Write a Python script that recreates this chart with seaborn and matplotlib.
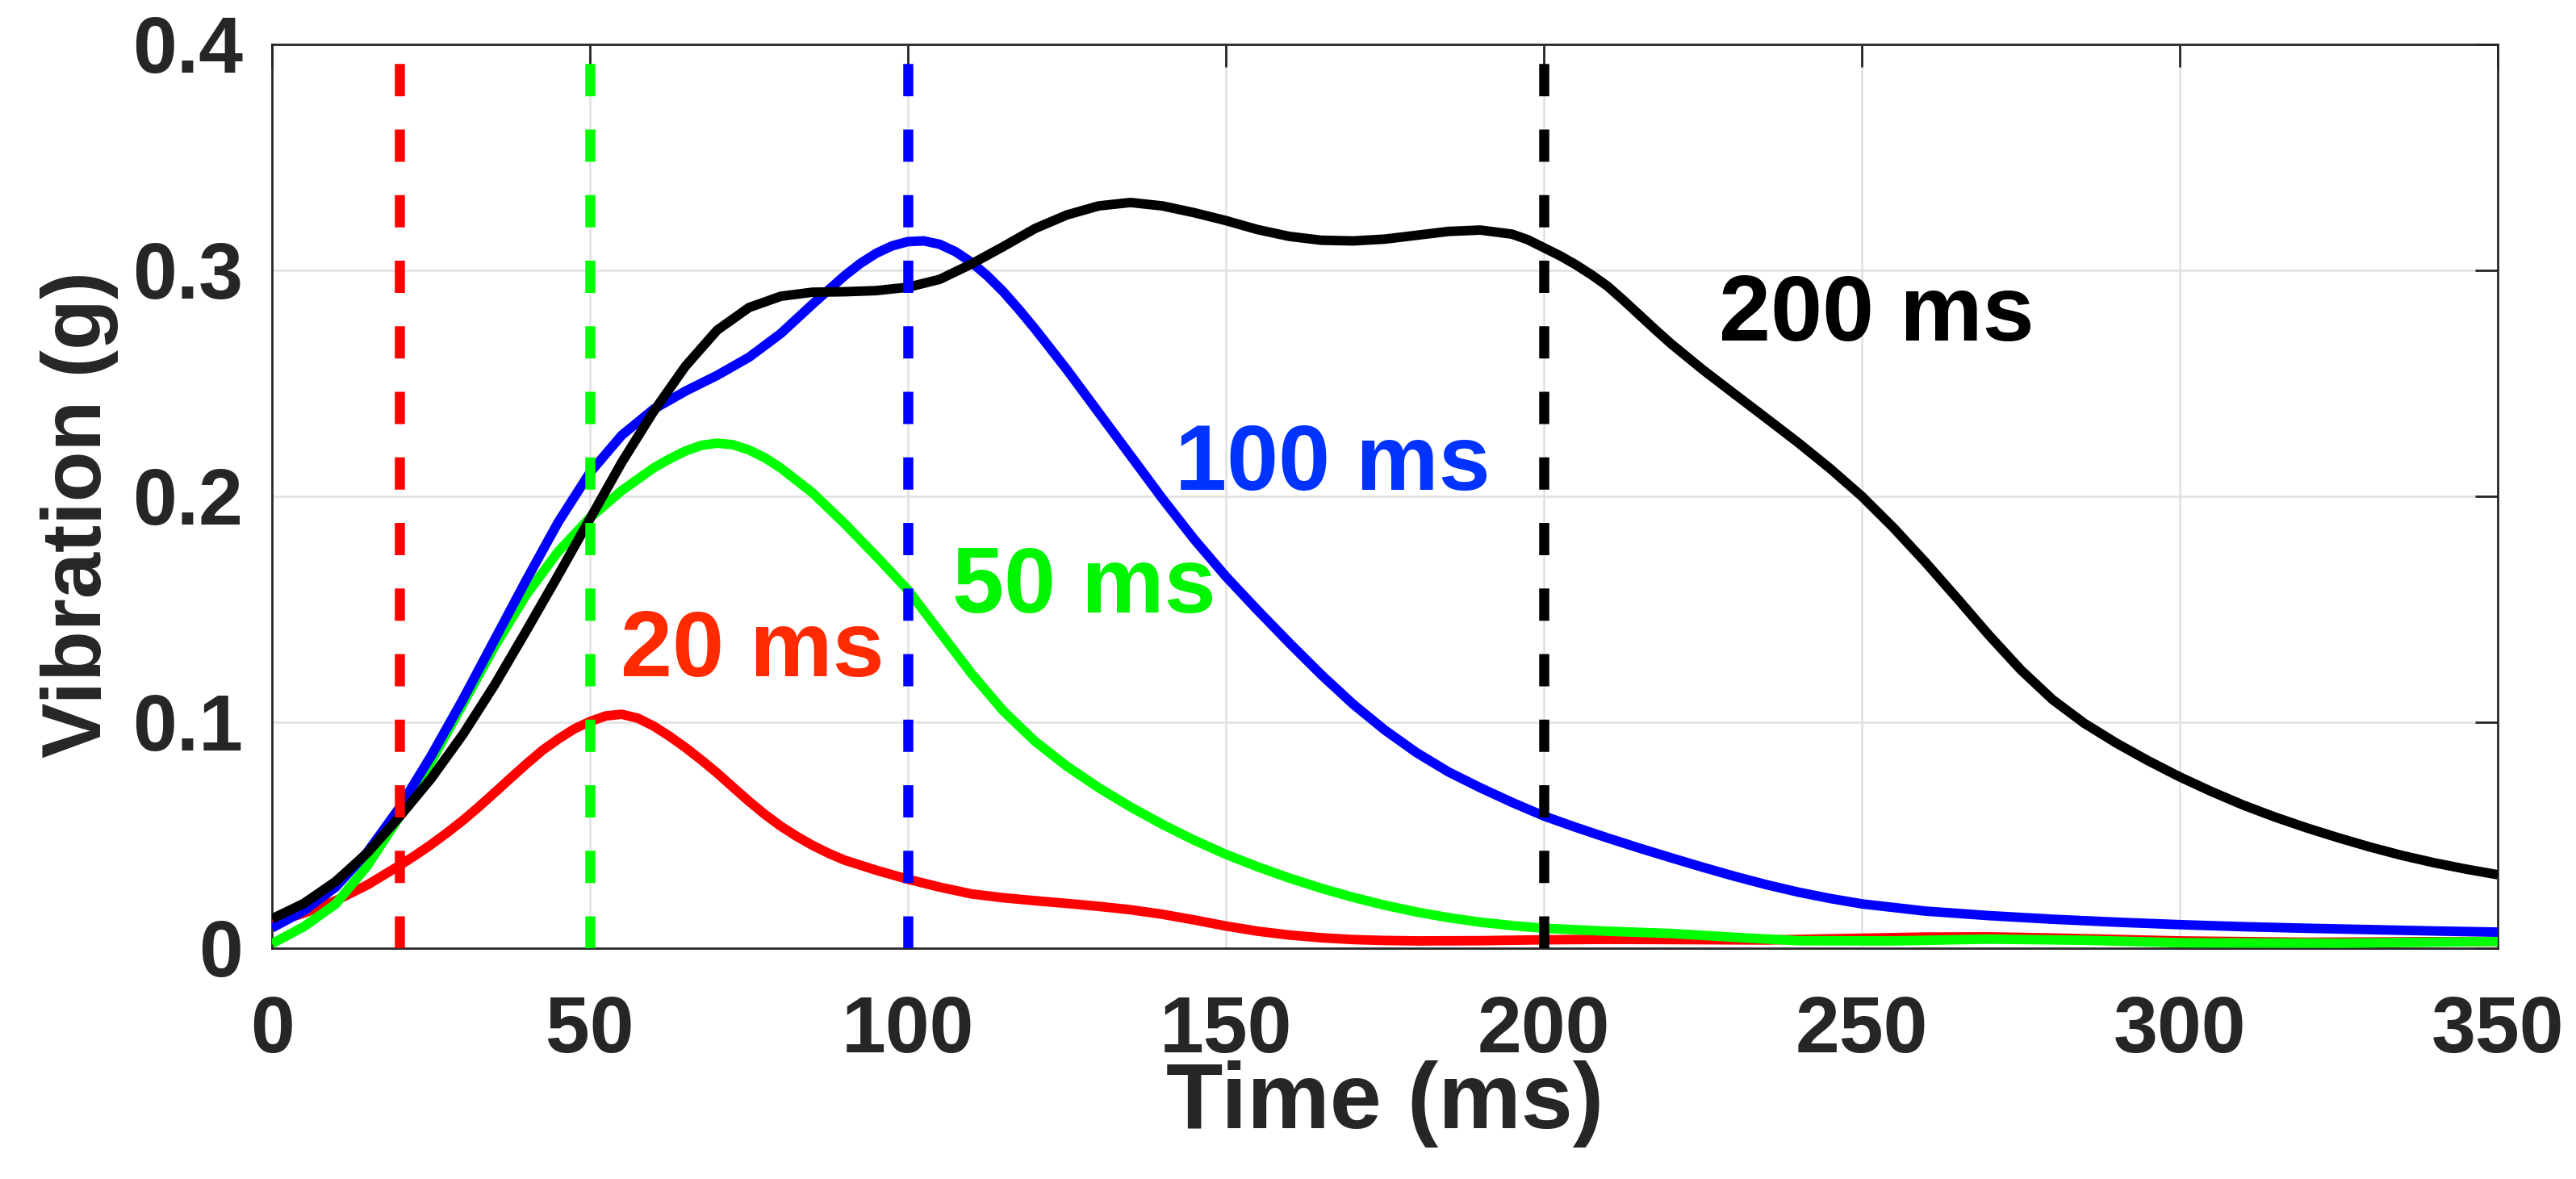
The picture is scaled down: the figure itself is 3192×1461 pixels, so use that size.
import numpy as np
import pandas as pd
import matplotlib
matplotlib.use("Agg")
import matplotlib.pyplot as plt
import seaborn as sns

# Vibration response (g) versus time (ms) for four stimulus durations
t_20 = [0, 5, 10, 15, 20, 22.5, 25, 27.5, 30, 32.5, 35, 37.5, 40, 42.5, 45, 47.5, 50,
        52.5, 55, 57.5, 60, 62.5, 65, 67.5, 70, 72.5, 75, 77.5, 80, 82.5, 85, 87.5, 90,
        95, 100, 105, 110, 115, 120, 125, 130, 135, 140, 145, 150, 155, 160, 165, 170,
        175, 180, 190, 200, 210, 220, 235, 250, 260, 270, 280, 300, 320, 350]
v_20 = [0.011, 0.0155, 0.021, 0.028, 0.0365, 0.041, 0.0458, 0.051, 0.0565, 0.0625,
        0.0688, 0.0752, 0.0815, 0.0875, 0.0925, 0.097, 0.1003, 0.1028, 0.1035, 0.1018,
        0.0983, 0.0938, 0.0888, 0.0833, 0.0775, 0.0712, 0.065, 0.0592, 0.054, 0.0495,
        0.0455, 0.042, 0.039, 0.0345, 0.0305, 0.027, 0.0240, 0.0223, 0.0210, 0.0198,
        0.0185, 0.017, 0.015, 0.0125, 0.0098, 0.0075, 0.0058, 0.0046, 0.0038, 0.0034,
        0.0032, 0.0033, 0.0037, 0.0039, 0.0038, 0.0036, 0.0044, 0.0049, 0.0050, 0.0045,
        0.0032, 0.0026, 0.0030]

t_50 = [0, 5, 10, 15, 20, 25, 30, 35, 40, 45, 50, 55, 60, 62.5, 65, 67.5, 70, 72.5, 75,
        77.5, 80, 85, 90, 95, 100, 105, 110, 115, 120, 125, 130, 135, 140, 145, 150, 155,
        160, 165, 170, 175, 180, 185, 190, 195, 200, 210, 220, 230, 240, 255, 270, 285,
        300, 325, 350]
v_50 = [0.002, 0.0095, 0.0195, 0.0365, 0.058, 0.0825, 0.108, 0.1335, 0.1565, 0.1755,
        0.1905, 0.2025, 0.2125, 0.2165, 0.2200, 0.2225, 0.2235, 0.2228, 0.2205, 0.2170,
        0.2125, 0.2015, 0.1880, 0.1735, 0.1585, 0.1400, 0.1215, 0.1050, 0.0915, 0.0805,
        0.0710, 0.0625, 0.0548, 0.0478, 0.0415, 0.0360, 0.0310, 0.0265, 0.0225, 0.0190,
        0.0160, 0.0135, 0.0115, 0.0100, 0.0088, 0.0075, 0.0065, 0.0048, 0.0033, 0.0032,
        0.0040, 0.0035, 0.0024, 0.0022, 0.0030]

t_100 = [0, 5, 10, 15, 20, 25, 30, 35, 40, 45, 50, 55, 60, 65, 70, 75, 80, 85, 90, 92.5,
         95, 97.5, 100, 102.5, 105, 107.5, 110, 112.5, 115, 117.5, 120, 125, 130, 135,
         140, 145, 150, 155, 160, 165, 170, 175, 180, 185, 190, 195, 200, 205, 210, 215,
         220, 225, 230, 235, 240, 245, 250, 260, 270, 280, 290, 300, 310, 320, 330, 340,
         350]
v_100 = [0.009, 0.0165, 0.0270, 0.0425, 0.0620, 0.0850, 0.1100, 0.1365, 0.1630, 0.1885,
         0.2105, 0.2270, 0.2385, 0.2465, 0.2535, 0.2615, 0.2720, 0.2850, 0.2975, 0.3030,
         0.3075, 0.3108, 0.3127, 0.3130, 0.3115, 0.3082, 0.3035, 0.2975, 0.2905, 0.2825,
         0.2740, 0.2560, 0.2370, 0.2180, 0.1990, 0.1810, 0.1645, 0.1495, 0.1350, 0.1210,
         0.1080, 0.0965, 0.0865, 0.0780, 0.0710, 0.0645, 0.0585, 0.0535, 0.0488, 0.0443,
         0.0400, 0.0358, 0.0318, 0.0281, 0.0248, 0.0220, 0.0196, 0.0164, 0.0144, 0.0128,
         0.0115, 0.0104, 0.0095, 0.0088, 0.0082, 0.0076, 0.0071]

t_200 = [0, 5, 10, 15, 20, 25, 30, 35, 40, 45, 50, 55, 60, 65, 70, 75, 80, 85, 90, 95,
         100, 105, 110, 115, 120, 125, 130, 135, 140, 145, 150, 155, 160, 165, 170, 175,
         180, 185, 190, 195, 197.5, 200, 202.5, 205, 207.5, 210, 212.5, 215, 217.5, 220,
         225, 230, 235, 240, 245, 250, 255, 260, 265, 270, 275, 280, 285, 290, 295, 300,
         305, 310, 315, 320, 325, 330, 335, 340, 345, 350]
v_200 = [0.013, 0.0198, 0.0295, 0.0422, 0.058, 0.075, 0.0945, 0.1165, 0.1405, 0.165,
         0.190, 0.215, 0.2375, 0.2575, 0.2735, 0.2835, 0.2885, 0.2903, 0.2905, 0.2910,
         0.2925, 0.2960, 0.3028, 0.3105, 0.3185, 0.3245, 0.3285, 0.3300, 0.3285, 0.3255,
         0.3220, 0.3180, 0.3150, 0.3133, 0.3130, 0.3138, 0.3155, 0.3172, 0.3178, 0.3160,
         0.3135, 0.3100, 0.3065, 0.3025, 0.2980, 0.2930, 0.2868, 0.2803, 0.2738, 0.2675,
         0.2560, 0.2452, 0.2345, 0.2237, 0.2123, 0.2000, 0.1860, 0.1708, 0.1548, 0.1385,
         0.1232, 0.1100, 0.0995, 0.0908, 0.0830, 0.0758, 0.0693, 0.0633, 0.0580, 0.0532,
         0.0488, 0.0447, 0.0410, 0.0378, 0.0350, 0.0325]

durations = [20, 50, 100, 200]
series_t = [t_20, t_50, t_100, t_200]
series_v = [v_20, v_50, v_100, v_200]
line_colors = ["#ff0000", "#00ff00", "#0000ff", "#000000"]
label_texts = ["20 ms", "50 ms", "100 ms", "200 ms"]
label_colors = ["#ff2a00", "#00f500", "#0033ff", "#000000"]
label_x = [54.8, 107.0, 142.0, 227.6]
label_y = [0.1205, 0.1487, 0.203, 0.269]

x_ticks = [0, 50, 100, 150, 200, 250, 300, 350]
y_ticks = [0, 0.1, 0.2, 0.3, 0.4]
y_tick_labels = ["0", "0.1", "0.2", "0.3", "0.4"]

frames = []
for d, t, v in zip(durations, series_t, series_v):
    frames.append(pd.DataFrame({"time": t, "vibration": v, "duration": d}))
df = pd.concat(frames, ignore_index=True)

sns.set_style("white")
plt.rcParams["font.family"] = ["Liberation Sans", "DejaVu Sans"]
plt.rcParams["font.weight"] = "bold"

ink = "#262626"
fig = plt.figure(figsize=(31.92, 14.61), dpi=100)
ax = fig.add_axes([0.1056, 0.1958, 0.8640, 0.7666])

for d, col in zip(durations, line_colors):
    sns.lineplot(data=df[df["duration"] == d], x="time", y="vibration",
                 color=col, linewidth=8.5, estimator=None, legend=False, ax=ax,
                 zorder=3)
for line in ax.get_lines():
    line.set_solid_joinstyle("round")
    line.set_solid_capstyle("butt")

# stimulus-duration markers
for d, col in zip(durations, line_colors):
    ax.axvline(d, ymin=0, ymax=1, color=col, linewidth=9,
               linestyle=(0, (3.2, 3.3)), zorder=4)

for txt, col, x, y in zip(label_texts, label_colors, label_x, label_y):
    ax.text(x, y, txt, color=col, fontsize=83, fontweight="bold",
            ha="left", va="baseline", zorder=5)

ax.set_xlim(0, 350)
ax.set_ylim(0, 0.4)
ax.set_xticks(x_ticks)
ax.set_xticklabels([str(v) for v in x_ticks])
ax.set_yticks(y_ticks)
ax.set_yticklabels(y_tick_labels)

ax.grid(True, color="#e1e1e1", linewidth=1.8)
ax.set_axisbelow(True)
for s in ax.spines.values():
    s.set_visible(True)
    s.set_color(ink)
    s.set_linewidth(2.0)

ax.tick_params(axis="both", which="major", direction="in", length=20, width=2,
               color=ink, labelcolor=ink, labelsize=71, top=True, right=True)
ax.tick_params(axis="x", pad=42)
ax.tick_params(axis="y", pad=26)
for lab in ax.get_xticklabels() + ax.get_yticklabels():
    lab.set_fontweight("bold")

ax.set_xlabel("Time (ms)", fontsize=83, fontweight="bold", color=ink)
ax.set_ylabel("Vibration (g)", fontsize=74, fontweight="bold", color=ink)
ax.xaxis.set_label_coords(0.5, -0.124)
ax.yaxis.set_label_coords(-0.069, 0.48)

fig.savefig("out.png", dpi=100, facecolor="white")
